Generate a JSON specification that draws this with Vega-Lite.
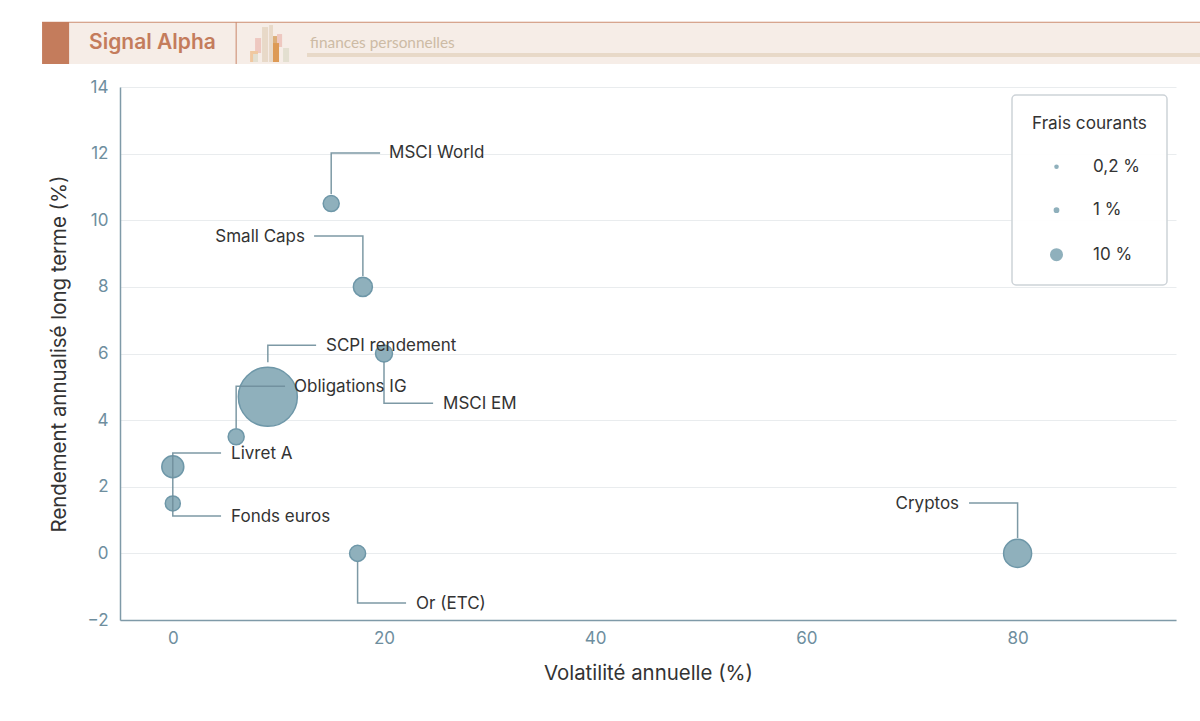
{
"$schema":"https://vega.github.io/schema/vega-lite/v6.json",
"width":1056,"height":533,
"autosize":{"type":"none"},
"padding":{"left":120,"top":87,"right":24,"bottom":101},
"background":"#ffffff",
"config":{"view":{"stroke":null},"font":"Inter","legend":{"strokeWidth":1.5}},
"datasets":{
"points":[
{"nom":"MSCI World","vol":15,"rend":10.5,"frais":15.6},
{"nom":"Small Caps","vol":18,"rend":8,"frais":22.5},
{"nom":"SCPI rendement","vol":9,"rend":4.7,"frais":226.7},
{"nom":"Obligations IG","vol":6,"rend":3.5,"frais":15.6},
{"nom":"MSCI EM","vol":20,"rend":6,"frais":17.7},
{"nom":"Livret A","vol":0,"rend":2.6,"frais":30.5},
{"nom":"Fonds euros","vol":0,"rend":1.5,"frais":13.6},
{"nom":"Or (ETC)","vol":17.5,"rend":0,"frais":15.6},
{"nom":"Cryptos","vol":80,"rend":0,"frais":50.2}
],
"leaders":[
{"nom":"MSCI World","k":1,"x":15,"y":10.79},{"nom":"MSCI World","k":2,"x":15,"y":12.02},{"nom":"MSCI World","k":3,"x":19.63,"y":12.02},
{"nom":"Small Caps","k":1,"x":18,"y":8.33},{"nom":"Small Caps","k":2,"x":18,"y":9.53},{"nom":"Small Caps","k":3,"x":13.38,"y":9.53},
{"nom":"SCPI rendement","k":1,"x":9,"y":5.74},{"nom":"SCPI rendement","k":2,"x":9,"y":6.25},{"nom":"SCPI rendement","k":3,"x":13.57,"y":6.25},
{"nom":"Obligations IG","k":1,"x":6,"y":3.76},{"nom":"Obligations IG","k":2,"x":6,"y":5.02},{"nom":"Obligations IG","k":3,"x":10.63,"y":5.02},
{"nom":"MSCI EM","k":1,"x":20,"y":5.75},{"nom":"MSCI EM","k":2,"x":20,"y":4.51},{"nom":"MSCI EM","k":3,"x":24.65,"y":4.51},
{"nom":"Livret A","k":1,"x":0,"y":1.6},{"nom":"Livret A","k":2,"x":0,"y":3.01},{"nom":"Livret A","k":3,"x":4.57,"y":3.01},
{"nom":"Fonds euros","k":1,"x":0,"y":1.6},{"nom":"Fonds euros","k":2,"x":0,"y":1.12},{"nom":"Fonds euros","k":3,"x":4.57,"y":1.12},
{"nom":"Or (ETC)","k":1,"x":17.5,"y":-0.26},{"nom":"Or (ETC)","k":2,"x":17.5,"y":-1.49},{"nom":"Or (ETC)","k":3,"x":22.09,"y":-1.49},
{"nom":"Cryptos","k":1,"x":80,"y":0.46},{"nom":"Cryptos","k":2,"x":80,"y":1.51},{"nom":"Cryptos","k":3,"x":75.4,"y":1.51}
],
"labels":[
{"nom":"MSCI World","x":20.48,"y":12.02,"cote":"d"},
{"nom":"Small Caps","x":12.52,"y":9.51,"cote":"g"},
{"nom":"SCPI rendement","x":14.51,"y":6.23,"cote":"d"},
{"nom":"Obligations IG","x":11.48,"y":4.99,"cote":"d"},
{"nom":"MSCI EM","x":25.59,"y":4.48,"cote":"d"},
{"nom":"Livret A","x":5.52,"y":2.98,"cote":"d"},
{"nom":"Fonds euros","x":5.52,"y":1.09,"cote":"d"},
{"nom":"Or (ETC)","x":23.04,"y":-1.52,"cote":"d"},
{"nom":"Cryptos","x":74.46,"y":1.48,"cote":"g"}
],
"bandeau":[
{"part":"fond","x":-12.38,"x2":97.28,"y":15.95,"y2":14.69},
{"part":"filet","x":-12.38,"x2":97.28,"y":15.96,"y2":15.93},
{"part":"bloc","x":-12.38,"x2":-9.82,"y":15.95,"y2":14.69},
{"part":"filet","x":5.95,"x2":6.05,"y":15.95,"y2":14.69},
{"part":"sable","x":12.71,"x2":97.28,"y":15.02,"y2":14.9},
{"part":"sable","x":8.45,"x2":9.02,"y":15.8,"y2":14.75},
{"part":"sable","x":9.12,"x2":9.49,"y":15.86,"y2":14.75},
{"part":"rose","x":7.79,"x2":8.36,"y":15.47,"y2":15.02},
{"part":"abricot","x":7.32,"x2":8.07,"y":15.08,"y2":14.75},
{"part":"gris","x":7.6,"x2":8.07,"y":14.99,"y2":14.75},
{"part":"ocre","x":9.49,"x2":9.97,"y":15.53,"y2":14.75},
{"part":"rose","x":9.87,"x2":10.35,"y":15.59,"y2":15.2},
{"part":"orange","x":9.49,"x2":10.06,"y":15.32,"y2":14.75},
{"part":"gris","x":10.44,"x2":11.01,"y":15.17,"y2":14.75}
],
"titres":[
{"t":"Signal Alpha","x":-7.93,"y":15.32}
],
"soustitres":[
{"t":"finances personnelles","x":13,"y":15.33}
]
},
"layer":[
{"data":{"name":"bandeau"},
 "mark":{"type":"rect","clip":false},
 "encoding":{
  "x":{"field":"x","type":"quantitative","scale":{"domain":[-5,95],"nice":false,"zero":false},
   "axis":{"values":[0,20,40,60,80],"title":"Volatilité annuelle (%)","grid":false,"ticks":false,"labelFontSize":17,"labelColor":"#6E8E9E","labelPadding":10,"labelFont":"Inter","titleFont":"Inter","titleFontSize":20.4,"titleFontWeight":"normal","titleColor":"#333333","titlePadding":17,"domainColor":"#7F9AA8","domainWidth":1.5}},
  "x2":{"field":"x2"},
  "y":{"field":"y","type":"quantitative","scale":{"domain":[-2,14],"nice":false,"zero":false},
   "axis":{"values":[-2,0,2,4,6,8,10,12,14],"title":"Rendement annualisé long terme (%)","grid":true,"gridColor":"#E9ECEE","gridWidth":1,"ticks":false,"labelFontSize":17,"labelColor":"#6E8E9E","labelPadding":12,"labelFont":"Inter","titleFont":"Inter","titleFontSize":20.4,"titleFontWeight":"normal","titleColor":"#333333","titlePadding":17,"domainColor":"#7F9AA8","domainWidth":1.5}},
  "y2":{"field":"y2"},
  "color":{"field":"part","type":"nominal","legend":null,"scale":{"domain":["fond","filet","bloc","sable","rose","abricot","gris","ocre","orange"],"range":["#F6EDE7","#CC8C70","#C47C5C","#E8D9C8","#EEC8C0","#F0C8A0","#E3DFD0","#DCAE78","#DD9A55"]}}
 }},
{"data":{"name":"points"},
 "mark":{"type":"point","filled":false,"shape":"circle","fill":"#8FB0BC","stroke":"#6E97A8","strokeWidth":1.5,"opacity":1},
 "encoding":{
  "x":{"field":"vol","type":"quantitative"},
  "y":{"field":"rend","type":"quantitative"},
  "size":{"field":"frais","type":"quantitative","scale":{"domain":[0,240],"range":[18,3686],"zero":false},
   "legend":{"title":"Frais courants","values":[0.2,1,10],"labelExpr":"replace(''+datum.value,'.',',')+' %'","orient":"none","legendX":892,"legendY":8,"padding":20,"fillColor":"#ffffffee","strokeColor":"#CDD3D8","cornerRadius":4,"titleFont":"Inter","titleFontSize":17.2,"titleFontWeight":"normal","titleColor":"#333333","titlePadding":26,"labelFont":"Inter","labelFontSize":17,"labelColor":"#333333","labelOffset":28,"symbolOffset":16,"rowPadding":25.5,"symbolFillColor":"#8FB0BC","symbolStrokeColor":"#6E97A8","symbolStrokeWidth":1.5,"symbolType":"circle"}}
 }},
{"data":{"name":"leaders"},
 "mark":{"type":"line","color":"#6F8E9B","strokeWidth":1.5,"opacity":0.9,"interpolate":"linear"},
 "encoding":{
  "x":{"field":"x","type":"quantitative"},
  "y":{"field":"y","type":"quantitative"},
  "detail":{"field":"nom"},
  "order":{"field":"k","type":"quantitative"}
 }},
{"data":{"name":"labels"},
 "transform":[{"filter":"datum.cote==='d'"}],
 "mark":{"type":"text","align":"left","baseline":"middle","font":"Inter","fontSize":17,"color":"#333333"},
 "encoding":{"x":{"field":"x","type":"quantitative"},"y":{"field":"y","type":"quantitative"},"text":{"field":"nom"}}},
{"data":{"name":"labels"},
 "transform":[{"filter":"datum.cote==='g'"}],
 "mark":{"type":"text","align":"right","baseline":"middle","font":"Inter","fontSize":17,"color":"#333333"},
 "encoding":{"x":{"field":"x","type":"quantitative"},"y":{"field":"y","type":"quantitative"},"text":{"field":"nom"}}},
{"data":{"name":"titres"},
 "mark":{"type":"text","align":"left","baseline":"middle","font":"Inter","fontWeight":600,"fontSize":21,"color":"#C47C5C"},
 "encoding":{"x":{"field":"x","type":"quantitative"},"y":{"field":"y","type":"quantitative"},"text":{"field":"t"}}},
{"data":{"name":"soustitres"},
 "mark":{"type":"text","align":"left","baseline":"middle","font":"Lato","fontSize":15.4,"color":"#CDBBA5"},
 "encoding":{"x":{"field":"x","type":"quantitative"},"y":{"field":"y","type":"quantitative"},"text":{"field":"t"}}}
]
}
